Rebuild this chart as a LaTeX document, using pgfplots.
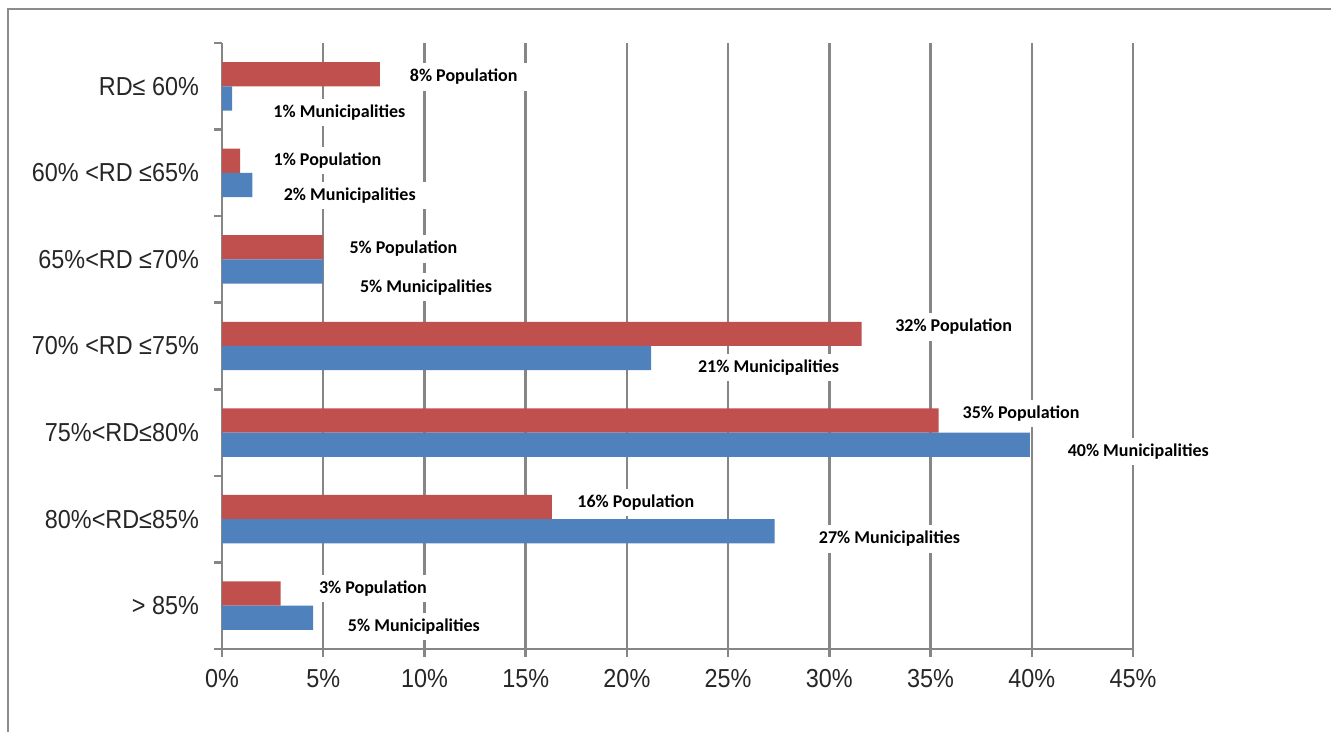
\documentclass[border=0pt]{standalone}
\usepackage{fontspec}
\setmainfont{Liberation Sans}
\newfontfamily\tickfont[FakeStretch=0.9]{Liberation Sans}
\newfontfamily\labelfont{Carlito}
\usepackage{pgfplots}
\usepackage{pgfplotstable}
\pgfplotsset{compat=1.18}

\definecolor{popred}{HTML}{C0504D}
\definecolor{munblue}{HTML}{4F81BD}
\definecolor{gridgray}{HTML}{868686}
\definecolor{framegray}{HTML}{8C8C8C}

% Share of population and of municipalities by RD class (in %),
% with the place of each data label; pos 6 = top row (RD <= 60%)
\pgfplotstableread{
pos pop  mun  popx  popy munx  muny
6   7.8  0.5  11.94 6.11 5.80  5.70
5   0.9  1.5  5.21  5.14 6.31  4.74
4   5.0  5.0  8.96  4.12 10.08 3.68
3   31.6 21.2 36.14 3.22 27.00 2.75
2   35.4 39.9 39.47 2.22 45.26 1.78
1   16.3 27.3 20.44 1.19 32.97 0.77
0   2.9  4.5  7.45  0.20 9.48  -0.24
}\rdshares

\pgfplotsset{
  datalabel/.style={
    every node near coord/.append style={anchor=center, fill=white,
      inner xsep=6pt, inner ysep=3pt,
      font=\labelfont\bfseries\fontsize{9}{11}\selectfont, text=black}},
}

\begin{document}
\begin{tikzpicture}
\useasboundingbox (0pt,0pt) rectangle (665.5pt,-366pt);
\draw[framegray, line width=1.2pt] (4pt,-370pt) -- (4pt,-4.5pt) -- (670pt,-4.5pt);
\begin{axis}[
  at={(111pt,-21.5pt)}, anchor=north west,
  scale only axis, width=455.5pt, height=303pt,
  xmin=0, xmax=45, ymin=-0.5, ymax=6.5,
  clip=false,
  axis lines*=left,
  axis line style={-, draw=gridgray, line width=1.25pt},
  tick align=outside,
  major tick length=4pt,
  tick style={draw=gridgray, line width=1.25pt},
  xtick={0,5,...,45},
  xticklabel={\pgfmathprintnumber{\tick}\%},
  xticklabel style={yshift=-2.5pt},
  xmajorgrids,
  major grid style={draw=gridgray, line width=1.25pt},
  ytick={-0.5,0.5,...,6.5},
  yticklabels={},
  extra y ticks={0,1,2,3,4,5,6},
  extra y tick labels={{> 85\%},{80\%<RD≤85\%},{75\%<RD≤80\%},{70\% <RD ≤75\%},{65\%<RD ≤70\%},{60\% <RD ≤65\%},{RD≤ 60\%}},
  extra y tick style={major tick length=0pt, yticklabel style={xshift=-8pt}},
  tick label style={font=\tickfont\fontsize{13}{15}\selectfont, text=black!85},
  /pgf/number format/assume math mode=true,
]
% bars: population (red, upper) and municipalities (blue, lower)
\addplot[xbar, bar shift=0pt, bar width=0.28, fill=popred, draw=none]
  table[x=pop, y expr=\thisrow{pos}+0.14] {\rdshares};
\addplot[xbar, bar shift=0pt, bar width=0.28, fill=munblue, draw=none]
  table[x=mun, y expr=\thisrow{pos}-0.14] {\rdshares};
% data labels on white boxes over the grid; the text is taken from the rounded values
\addplot[draw=none, mark=none, point meta=\thisrow{pop}, datalabel,
  nodes near coords={\pgfmathprintnumber[fixed,precision=0]{\pgfplotspointmeta}\%~Population}]
  table[x=popx, y=popy] {\rdshares};
\addplot[draw=none, mark=none, point meta=\thisrow{mun}, datalabel,
  nodes near coords={\pgfmathprintnumber[fixed,precision=0]{\pgfplotspointmeta}\%~Municipalities}]
  table[x=munx, y=muny] {\rdshares};
\end{axis}
\end{tikzpicture}
\end{document}
